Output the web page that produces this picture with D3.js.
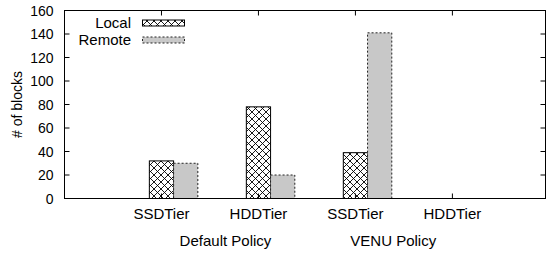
<!DOCTYPE html>
<html>
<head>
    <meta charset="utf-8">
    <style>
        body { margin: 0; background: #fff; }
        text { font-family: "Liberation Sans", Arial, sans-serif; fill: #000; }
        .frame { fill: none; stroke: #000; stroke-width: 1; }
        .tick { stroke: #000; stroke-width: 1; }
        rect.local { stroke: #000; stroke-width: 1; }
        rect.remote { fill: #c8c8c8; stroke: #222; stroke-width: 1; stroke-dasharray: 2,2; }
    </style>
</head>
<body>
<div id="chart"></div>
<script src="https://cdn.jsdelivr.net/npm/d3@7"></script>
<script>

    // data
    var tiers = ["SSDTier", "HDDTier", "SSDTier", "HDDTier"];
    var policies = ["Default Policy", "VENU Policy"];
    var policyPos = [0.66, 2.39];
    var series = ["Local", "Remote"];
    var localBlocks = [32, 78, 39, 0];
    var remoteBlocks = [30, 20, 141, 0];
    var yTicks = [0, 20, 40, 60, 80, 100, 120, 140, 160];

    var width = 546, height = 253;
    var plotLeft = 64.5, plotRight = 545.5, plotTop = 10.5, plotBottom = 198.5;

    var svg = d3.select("#chart").append("svg")
        .attr("width", width)
        .attr("height", height);

    var defs = svg.append("defs");
    var pat = defs.append("pattern")
        .attr("id", "hatch")
        .attr("patternUnits", "userSpaceOnUse")
        .attr("width", 7)
        .attr("height", 7);
    pat.append("rect").attr("width", 7).attr("height", 7).attr("fill", "#fff");
    pat.append("path")
        .attr("d", "M0,0L7,7M7,0L0,7M-1,6L1,8M6,-1L8,1M-1,1L1,-1M6,8L8,6")
        .attr("stroke", "#000")
        .attr("stroke-width", 0.9);

    var x = d3.scaleLinear().domain([-1, 3.96]).range([plotLeft, plotRight]);
    var y = d3.scaleLinear().domain([0, 160]).range([plotBottom, plotTop]);

    var bw = 0.25;

    // bars
    var g = svg.append("g");
    g.selectAll("rect.local")
        .data(localBlocks)
        .enter().append("rect")
        .attr("class", "local")
        .attr("fill", "url(#hatch)")
        .attr("x", function (d, i) { return x(i - bw / 2); })
        .attr("width", function (d, i) { return x(i + bw / 2) - x(i - bw / 2); })
        .attr("y", function (d) { return y(d); })
        .attr("height", function (d) { return y(0) - y(d); });

    g.selectAll("rect.remote")
        .data(remoteBlocks)
        .enter().append("rect")
        .attr("class", "remote")
        .attr("x", function (d, i) { return x(i + bw / 2); })
        .attr("width", function (d, i) { return x(i + 1.5 * bw) - x(i + bw / 2); })
        .attr("y", function (d) { return y(d); })
        .attr("height", function (d) { return y(0) - y(d); });

    // y ticks, mirrored on the right
    var yt = svg.append("g");
    yTicks.forEach(function (t) {
        if (t > 0 && t < 160) {
            yt.append("line").attr("class", "tick")
                .attr("x1", plotLeft).attr("x2", plotLeft + 5)
                .attr("y1", y(t)).attr("y2", y(t));
            yt.append("line").attr("class", "tick")
                .attr("x1", plotRight).attr("x2", plotRight - 5)
                .attr("y1", y(t)).attr("y2", y(t));
        }
        yt.append("text")
            .attr("x", plotLeft - 11)
            .attr("y", y(t))
            .attr("dy", "0.36em")
            .attr("text-anchor", "end")
            .style("font-size", "14px")
            .text(t);
    });

    // x ticks, top and bottom
    var xt = svg.append("g");
    tiers.forEach(function (t, i) {
        xt.append("line").attr("class", "tick")
            .attr("x1", x(i)).attr("x2", x(i))
            .attr("y1", plotTop).attr("y2", plotTop + 5);
        xt.append("line").attr("class", "tick")
            .attr("x1", x(i)).attr("x2", x(i))
            .attr("y1", plotBottom).attr("y2", plotBottom - 5);
        xt.append("text")
            .attr("x", x(i))
            .attr("y", 219)
            .attr("text-anchor", "middle")
            .style("font-size", "15px")
            .text(t);
    });

    policies.forEach(function (p, i) {
        svg.append("text")
            .attr("x", x(policyPos[i]))
            .attr("y", 246)
            .attr("text-anchor", "middle")
            .style("font-size", "15px")
            .text(p);
    });

    svg.append("rect").attr("class", "frame")
        .attr("x", plotLeft).attr("y", plotTop)
        .attr("width", plotRight - plotLeft).attr("height", plotBottom - plotTop);

    svg.append("text")
        .attr("transform", "translate(22," + y(80) + ") rotate(-90)")
        .attr("text-anchor", "middle")
        .style("font-size", "14px")
        .text("# of blocks");

    // legend
    var leg = svg.append("g");
    series.forEach(function (s, i) {
        var ly = 23 + i * 17;
        leg.append("text")
            .attr("x", 131)
            .attr("y", ly)
            .attr("dy", "0.36em")
            .attr("text-anchor", "end")
            .style("font-size", "15px")
            .text(s);
        leg.append("rect")
            .attr("class", i === 0 ? "local" : "remote")
            .attr("fill", i === 0 ? "url(#hatch)" : null)
            .attr("x", 142.5).attr("y", ly - 3)
            .attr("width", 42).attr("height", 6);
    });

</script>
</body>
</html>
